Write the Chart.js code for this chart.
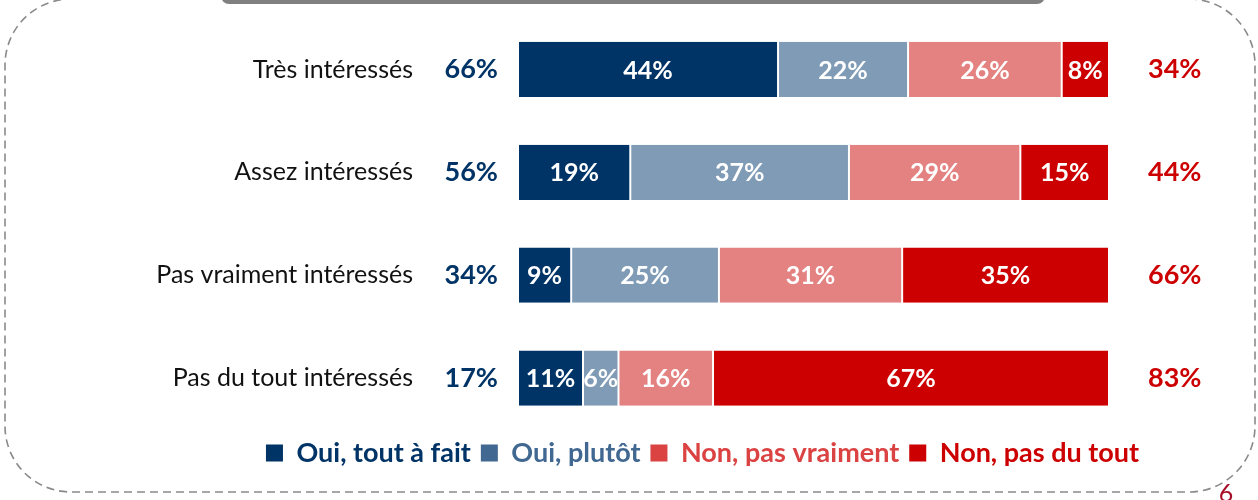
<!DOCTYPE html>
<html><head><meta charset="utf-8">
<script src="https://cdn.jsdelivr.net/npm/chart.js@4/dist/chart.umd.min.js"></script>
<style>html,body{margin:0;padding:0;background:#fff;}#wrap{position:relative;width:1258px;height:500px;}</style>
</head><body><div id="wrap"><canvas id="c" width="1258" height="500"></canvas></div>
<script>
const categories = ['Très intéressés', 'Assez intéressés', 'Pas vraiment intéressés', 'Pas du tout intéressés'];
const seriesNames = ['Oui, tout à fait', 'Oui, plutôt', 'Non, pas vraiment', 'Non, pas du tout'];
const ouiToutAFait = [44, 19, 9, 11];
const ouiPlutot = [22, 37, 25, 6];
const nonPasVraiment = [26, 29, 31, 16];
const nonPasDuTout = [8, 15, 35, 67];
const totalOui = ['66%', '56%', '34%', '17%'];
const totalNon = ['34%', '44%', '66%', '83%'];
const pageNumber = '6';

const FONT = 'Lato, "Open Sans", sans-serif';
const barColors = ['#003366', '#7F9BB5', '#E48181', '#CC0000'];
const legendBoxColors = ['#003366', '#416891', '#DB4343', '#CC0000'];
const legendTextColors = ['#003366', '#416891', '#DB4343', '#CC0000'];

const seriesValues = [ouiToutAFait, ouiPlutot, nonPasVraiment, nonPasDuTout];

function noPad(s) { s.paddingTop = 0; s.paddingBottom = 0; }

const framePlugin = {
  id: 'frame',
  beforeDraw(chart) {
    const ctx = chart.ctx;
    ctx.save();
    ctx.fillStyle = '#fff';
    ctx.fillRect(0, 0, chart.width, chart.height);
    ctx.fillStyle = '#808080';
    ctx.beginPath();
    ctx.roundRect(221, -12, 824, 16, 8);
    ctx.fill();
    ctx.strokeStyle = '#8a8a8a';
    ctx.lineWidth = 1.6;
    ctx.setLineDash([8, 5]);
    ctx.beginPath();
    ctx.roundRect(5, -1, 1250, 493, 66);
    ctx.stroke();
    ctx.setLineDash([]);
    ctx.fillStyle = '#A8102A';
    ctx.font = '25px ' + FONT;
    ctx.textAlign = 'center';
    ctx.textBaseline = 'alphabetic';
    ctx.fillText(pageNumber, 1226, 502);
    ctx.restore();
  }
};

const barLabelPlugin = {
  id: 'barLabels',
  afterDatasetsDraw(chart) {
    const ctx = chart.ctx;
    ctx.save();
    ctx.fillStyle = '#fff';
    ctx.font = 'bold 25px ' + FONT;
    ctx.textAlign = 'center';
    ctx.textBaseline = 'middle';
    chart.data.datasets.forEach((ds, di) => {
      const meta = chart.getDatasetMeta(di);
      meta.data.forEach((el, i) => {
        const cx = (el.x + el.base) / 2;
        ctx.fillText(ds.data[i] + '%', cx, el.y + 1);
      });
    });
    ctx.restore();
  }
};

new Chart(document.getElementById('c'), {
  type: 'bar',
  data: {
    labels: categories,
    datasets: seriesNames.map((name, i) => ({
      label: name,
      data: seriesValues[i],
      backgroundColor: barColors[i],
      borderColor: '#ffffff',
      borderWidth: {left: 1, right: 1, top: 0, bottom: 0},
      borderSkipped: false,
      categoryPercentage: 1,
      barPercentage: 0.536
    }))
  },
  options: {
    indexAxis: 'y',
    responsive: false,
    animation: false,
    layout: {padding: {left: 147, right: 0, top: 18, bottom: 23.5}},
    scales: {
      x: {stacked: true, min: 0, max: 100, display: false},
      y: {
        stacked: true, position: 'left', weight: 2,
        grid: {display: false, drawTicks: false}, border: {display: false},
        ticks: {color: '#111', font: {family: FONT, size: 25}, padding: 17},
        afterFit(s) { s.width = 283; noPad(s); }
      },
      yOui: {
        type: 'category', labels: totalOui, position: 'left', weight: 1, offset: true,
        grid: {display: false, drawTicks: false}, border: {display: false},
        ticks: {color: '#003366', font: {family: FONT, size: 27, weight: 'bold'}, padding: 20},
        afterFit(s) { s.width = 88; noPad(s); }
      },
      yNon: {
        type: 'category', labels: totalNon, position: 'right', offset: true,
        grid: {display: false, drawTicks: false}, border: {display: false},
        ticks: {color: '#CC0000', font: {family: FONT, size: 27, weight: 'bold'}, padding: 39},
        afterFit(s) { s.width = 149; noPad(s); }
      }
    },
    plugins: {
      tooltip: {enabled: false},
      legend: {
        position: 'bottom',
        labels: {
          boxWidth: 17, boxHeight: 17, padding: 10,
          font: {family: FONT, size: 27, weight: 'bold'},
          generateLabels(chart) {
            return chart.data.datasets.map((d, i) => ({
              text: d.label, fillStyle: legendBoxColors[i], strokeStyle: legendBoxColors[i],
              lineWidth: 0, fontColor: legendTextColors[i], datasetIndex: i, hidden: false
            }));
          }
        }
      }
    }
  },
  plugins: [framePlugin, barLabelPlugin]
});
</script></body></html>
